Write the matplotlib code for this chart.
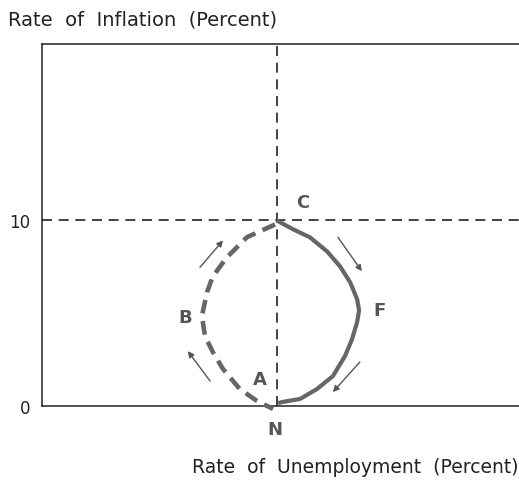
import numpy as np
import matplotlib.pyplot as plt

plt.rcParams["font.family"] = ["DejaVu Sans"]

# natural rate of unemployment and the 10% inflation reference level
natural_rate = 6.0
inflation_ref = 10.0

# solid path C -> F -> N
solid_u = [6.0, 6.42, 6.85, 7.29, 7.62, 7.88, 8.06, 8.11, 8.06, 7.93, 7.75, 7.44, 7.03, 6.60, 6.16, 6.04]
solid_pi = [10.0, 9.52, 9.09, 8.33, 7.53, 6.67, 5.75, 5.16, 4.52, 3.60, 2.69, 1.61, 0.91, 0.38, 0.22, 0.16]

# dashed path C -> B -> A -> N
dash_u = [5.96, 5.24, 4.73, 4.37, 4.22, 4.09, 4.17, 4.37, 4.63, 5.06, 5.50, 5.91]
dash_pi = [9.78, 9.09, 8.01, 6.99, 6.13, 4.84, 3.76, 2.90, 1.99, 0.91, 0.27, -0.16]

# direction arrows (tail, head)
arrows = [
    ((4.04, 7.47), (4.63, 8.92)),
    ((4.30, 1.34), (3.73, 2.96)),
    ((7.57, 9.09), (8.18, 7.26)),
    ((8.13, 2.37), (7.44, 0.75)),
]

point_labels = ["C", "B", "A", "F", "N"]
label_u = [6.68, 3.66, 5.58, 8.64, 5.96]
label_pi = [10.97, 4.78, 1.45, 5.16, -1.24]

yticks = [0, 10]

W, H = 519, 481
fig = plt.figure(figsize=(W / 100, H / 100), dpi=100)
ax = fig.add_axes([42 / W, (H - 407) / H, (W - 42) / W, (407 - 45) / H])
ax.set_xlim(0, 12.2)
ax.set_ylim(0, 19.5)

for s in ["left", "bottom", "top"]:
    ax.spines[s].set_linewidth(1.1)
    ax.spines[s].set_color("#222222")
ax.spines["right"].set_visible(False)

ax.set_xticks([])
ax.set_yticks(yticks)
ax.set_yticklabels([str(t) for t in yticks], fontsize=12, color="#222222")
ax.tick_params(axis="y", length=0, pad=8.5)

# reference lines
ax.axvline(natural_rate, color="#222222", lw=1.2, ls=(0, (6, 4)), zorder=1)
ax.axhline(inflation_ref, color="#222222", lw=1.2, ls=(0, (6, 4)), zorder=1)

gray = "#666666"
ax.plot(solid_u, solid_pi, color=gray, lw=3, solid_capstyle="butt", zorder=3, clip_on=False)
ax.plot(dash_u, dash_pi, color=gray, lw=3.3, ls=(0, (3, 1.7)), zorder=3, clip_on=False)

for tail, head in arrows:
    ax.annotate("", xy=head, xytext=tail,
                arrowprops=dict(arrowstyle="-|>", color="#555555", lw=1.0,
                                mutation_scale=9, shrinkA=0, shrinkB=0))

for lab, u, p in zip(point_labels, label_u, label_pi):
    ax.text(u, p, lab, fontsize=13, fontweight="bold", color="#555555",
            ha="center", va="center", clip_on=False)

fig.text(8 / W, 1 - 20 / H, "Rate  of  Inflation  (Percent)", fontsize=14,
         color="#222222", ha="left", va="center")
fig.text(518 / W, 1 - 468 / H, "Rate  of  Unemployment  (Percent)", fontsize=13.5,
         color="#222222", ha="right", va="center")

fig.savefig("out.png", dpi=100)
